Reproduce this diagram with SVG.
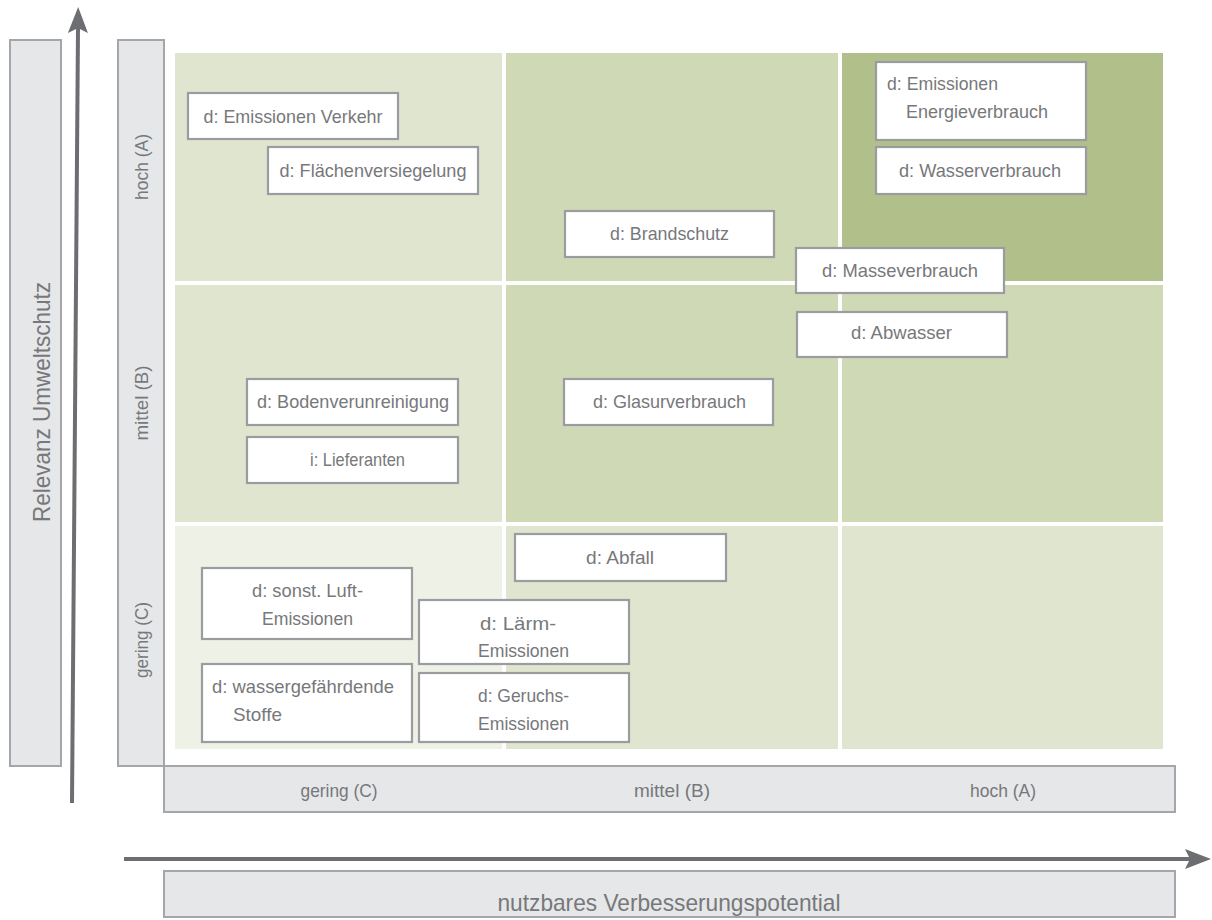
<svg xmlns="http://www.w3.org/2000/svg" width="1212" height="920" viewBox="0 0 1212 920">
<style>
text{font-family:"Liberation Sans",Arial,sans-serif;fill:#77787b;font-size:19px}
.axis{fill:#e6e7e8;stroke:#a4a6a9;stroke-width:2}
.node{fill:#ffffff;stroke:#9a9c9f;stroke-width:2.2}
.c0{fill:#eef1e6}.c1{fill:#dfe5cf}.c2{fill:#cfd9b6}.c3{fill:#b1c08a}
.big{font-size:24px}
.arrow{stroke:#6d6e71;stroke-width:4;fill:none}
</style>
<defs>
<marker id="ah" viewBox="0 0 26 20" refX="5" refY="10" markerWidth="26" markerHeight="20" markerUnits="userSpaceOnUse" orient="auto">
<path d="M0,0 L26,10 L0,20 L5,10 Z" fill="#6d6e71"/>
</marker>
</defs>
<rect width="1212" height="920" fill="#ffffff"/>
<g id="grid">
<rect class="c1" x="175" y="53" width="327" height="228"/>
<rect class="c2" x="506" y="53" width="332" height="228"/>
<rect class="c3" x="842" y="53" width="321" height="228"/>
<rect class="c1" x="175" y="285" width="327" height="237"/>
<rect class="c2" x="506" y="285" width="332" height="237"/>
<rect class="c2" x="842" y="285" width="321" height="237"/>
<rect class="c0" x="175" y="526" width="327" height="223"/>
<rect class="c1" x="506" y="526" width="332" height="223"/>
<rect class="c1" x="842" y="526" width="321" height="223"/>
</g>
<g id="y-axis-title">
<rect class="axis" x="10" y="40" width="51" height="726"/>
<text class="big" transform="translate(50,402) rotate(-90)" text-anchor="middle" textLength="240" lengthAdjust="spacingAndGlyphs">Relevanz Umweltschutz</text>
</g>
<g id="y-axis-levels">
<rect class="axis" x="118" y="40" width="46" height="726"/>
<text transform="translate(148,167) rotate(-90)" text-anchor="middle" textLength="66" lengthAdjust="spacingAndGlyphs">hoch (A)</text>
<text transform="translate(148,403) rotate(-90)" text-anchor="middle" textLength="75" lengthAdjust="spacingAndGlyphs">mittel (B)</text>
<text transform="translate(148,640) rotate(-90)" text-anchor="middle" textLength="76" lengthAdjust="spacingAndGlyphs">gering (C)</text>
</g>
<g id="x-axis-levels">
<rect class="axis" x="164" y="766" width="1011" height="46"/>
<text x="339" y="797" text-anchor="middle" textLength="77" lengthAdjust="spacingAndGlyphs">gering (C)</text>
<text x="672" y="797" text-anchor="middle" textLength="76" lengthAdjust="spacingAndGlyphs">mittel (B)</text>
<text x="1003" y="797" text-anchor="middle" textLength="66" lengthAdjust="spacingAndGlyphs">hoch (A)</text>
</g>
<g id="x-axis-title">
<rect class="axis" x="164" y="871" width="1011" height="46"/>
<text class="big" x="669" y="911" text-anchor="middle" textLength="343" lengthAdjust="spacingAndGlyphs">nutzbares Verbesserungspotential</text>
</g>
<g id="connectors">
<line class="arrow" x1="72" y1="803" x2="78" y2="28" marker-end="url(#ah)"/>
<line class="arrow" x1="124" y1="859" x2="1190" y2="859" marker-end="url(#ah)"/>
</g>
<g id="n-emissionen-verkehr">
<rect class="node" x="188" y="93" width="210" height="46"/>
<text x="293" y="123" text-anchor="middle" textLength="179" lengthAdjust="spacingAndGlyphs">d: Emissionen Verkehr</text>
</g>
<g id="n-flaechenversiegelung">
<rect class="node" x="268" y="147" width="210" height="47"/>
<text x="373" y="177" text-anchor="middle" textLength="187" lengthAdjust="spacingAndGlyphs">d: Flächenversiegelung</text>
</g>
<g id="n-emissionen-energie">
<rect class="node" x="876" y="62" width="210" height="78"/>
<text x="887" y="90" textLength="111" lengthAdjust="spacingAndGlyphs">d: Emissionen</text>
<text x="906" y="118" textLength="142" lengthAdjust="spacingAndGlyphs">Energieverbrauch</text>
</g>
<g id="n-wasserverbrauch">
<rect class="node" x="876" y="147" width="210" height="47"/>
<text x="980" y="177" text-anchor="middle" textLength="162" lengthAdjust="spacingAndGlyphs">d: Wasserverbrauch</text>
</g>
<g id="n-brandschutz">
<rect class="node" x="565" y="211" width="209" height="46"/>
<text x="669.5" y="240" text-anchor="middle" textLength="119" lengthAdjust="spacingAndGlyphs">d: Brandschutz</text>
</g>
<g id="n-masseverbrauch">
<rect class="node" x="796" y="248" width="208" height="45"/>
<text x="900" y="277" text-anchor="middle" textLength="156" lengthAdjust="spacingAndGlyphs">d: Masseverbrauch</text>
</g>
<g id="n-abwasser">
<rect class="node" x="797" y="312" width="210" height="45"/>
<text x="901.5" y="339" text-anchor="middle" textLength="101" lengthAdjust="spacingAndGlyphs">d: Abwasser</text>
</g>
<g id="n-bodenverunreinigung">
<rect class="node" x="247" y="379" width="211" height="46"/>
<text x="353" y="408" text-anchor="middle" textLength="192" lengthAdjust="spacingAndGlyphs">d: Bodenverunreinigung</text>
</g>
<g id="n-lieferanten">
<rect class="node" x="247" y="437" width="211" height="46"/>
<text x="357.5" y="466" text-anchor="middle" textLength="95" lengthAdjust="spacingAndGlyphs">i: Lieferanten</text>
</g>
<g id="n-glasurverbrauch">
<rect class="node" x="564" y="379" width="209" height="46"/>
<text x="669.5" y="408" text-anchor="middle" textLength="153" lengthAdjust="spacingAndGlyphs">d: Glasurverbrauch</text>
</g>
<g id="n-abfall">
<rect class="node" x="515" y="534" width="211" height="47"/>
<text x="620" y="564" text-anchor="middle" textLength="68" lengthAdjust="spacingAndGlyphs">d: Abfall</text>
</g>
<g id="n-luft-emissionen">
<rect class="node" x="202" y="568" width="210" height="71"/>
<text x="307.5" y="597" text-anchor="middle" textLength="111" lengthAdjust="spacingAndGlyphs">d: sonst. Luft-</text>
<text x="307.5" y="625" text-anchor="middle" textLength="91" lengthAdjust="spacingAndGlyphs">Emissionen</text>
</g>
<g id="n-laerm-emissionen">
<rect class="node" x="419" y="600" width="210" height="64"/>
<text x="518" y="630" text-anchor="middle" textLength="76" lengthAdjust="spacingAndGlyphs">d: Lärm-</text>
<text x="523.5" y="657" text-anchor="middle" textLength="91" lengthAdjust="spacingAndGlyphs">Emissionen</text>
</g>
<g id="n-wassergefaehrdende-stoffe">
<rect class="node" x="202" y="664" width="210" height="78"/>
<text x="212" y="693" textLength="182" lengthAdjust="spacingAndGlyphs">d: wassergefährdende</text>
<text x="233" y="721" textLength="49" lengthAdjust="spacingAndGlyphs">Stoffe</text>
</g>
<g id="n-geruchs-emissionen">
<rect class="node" x="419" y="673" width="210" height="69"/>
<text x="523.5" y="702" text-anchor="middle" textLength="91" lengthAdjust="spacingAndGlyphs">d: Geruchs-</text>
<text x="523.5" y="730" text-anchor="middle" textLength="91" lengthAdjust="spacingAndGlyphs">Emissionen</text>
</g>
</svg>
